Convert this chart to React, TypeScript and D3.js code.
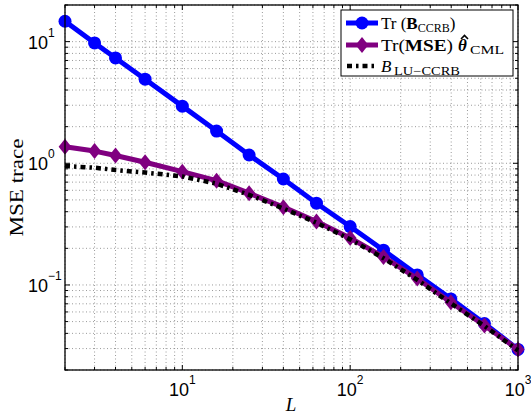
import React from "react";
import * as d3 from "d3";

const Lvals = [2, 3, 4, 6, 10, 16, 25, 40, 63, 100, 158, 251, 398, 631, 1000];
const bCCRB = [14.7, 9.75, 7.34, 4.91, 2.95, 1.84, 1.17, 0.743, 0.47, 0.302, 0.193, 0.121, 0.0768, 0.0482, 0.0295];
const mseCML = [1.37, 1.26, 1.16, 1.02, 0.853, 0.72, 0.568, 0.436, 0.332, 0.243, 0.17, 0.113, 0.072, 0.0464, 0.0295];
const bLU = [0.95, 0.92, 0.88, 0.84, 0.78, 0.68, 0.55, 0.425, 0.325, 0.237, 0.166, 0.11, 0.0705, 0.046, 0.029];
const xMajor = [10, 100, 1000];
const xMajorExp = ["1", "2", "3"];
const yMajor = [0.1, 1, 10];
const yMajorExp = ["\u22121", "0", "1"];

const W = 531, H = 416;
const L0 = 65, R0 = 518, T0 = 5, B0 = 370;

function minorTicks(lo: number, hi: number) {
  const out: number[] = [];
  for (let e = Math.floor(Math.log10(lo)); e <= Math.ceil(Math.log10(hi)); e++) {
    for (let m = 1; m <= 9; m++) {
      const v = m * Math.pow(10, e);
      if (v >= lo * 0.999 && v <= hi * 1.001) out.push(v);
    }
  }
  return out;
}

export default function App() {
  const x = d3.scaleLog().domain([2, 1000]).range([L0, R0]);
  const y = d3.scaleLog().domain([0.02, 20]).range([B0, T0]);
  const line = (vals: number[]) =>
    d3.line<number>().x((_, i) => x(Lvals[i])).y((v) => y(v))(vals) || "";
  const xt = minorTicks(2, 1000);
  const yt = minorTicks(0.02, 20);
  const isMajor = (v: number) => Math.abs(Math.log10(v) - Math.round(Math.log10(v))) < 1e-6;
  const grid = "#808080";
  const diamond = (cx: number, cy: number, r: number) =>
    `M${cx},${cy - r}L${cx + r * 0.8},${cy}L${cx},${cy + r}L${cx - r * 0.8},${cy}Z`;
  const serif = "'Liberation Serif', 'DejaVu Serif', serif";
  const sans = "'Liberation Sans', Arial, sans-serif";
  const lgX = 341, lgY = 10, lgW = 172, lgH = 66;
  const rows = [lgY + 13, lgY + 35, lgY + 56];
  const tx = lgX + 40;
  return (
    <svg width={W} height={H} style={{ display: "block", position: "absolute", left: 0, top: 0 }}>
      <rect x={0} y={0} width={W} height={H} fill="#fff" />
      {/* grid */}
      {xt.map((v, i) => (
        <line key={"gx" + i} x1={x(v)} x2={x(v)} y1={T0} y2={B0} stroke={grid} strokeWidth={0.8} strokeDasharray="1,2.5" />
      ))}
      {yt.map((v, i) => (
        <line key={"gy" + i} x1={L0} x2={R0} y1={y(v)} y2={y(v)} stroke={grid} strokeWidth={0.8} strokeDasharray="1,2.5" />
      ))}
      {/* ticks */}
      {xt.map((v, i) => {
        const len = isMajor(v) ? 5 : 3;
        return (
          <g key={"tx" + i}>
            <line x1={x(v)} x2={x(v)} y1={B0} y2={B0 - len} stroke="#000" />
            <line x1={x(v)} x2={x(v)} y1={T0} y2={T0 + len} stroke="#000" />
          </g>
        );
      })}
      {yt.map((v, i) => {
        const len = isMajor(v) ? 5 : 3;
        return (
          <g key={"ty" + i}>
            <line x1={L0} x2={L0 + len} y1={y(v)} y2={y(v)} stroke="#000" />
            <line x1={R0} x2={R0 - len} y1={y(v)} y2={y(v)} stroke="#000" />
          </g>
        );
      })}
      {/* data */}
      <path d={line(bCCRB)} fill="none" stroke="#0000ff" strokeWidth={5} strokeLinejoin="round" />
      {bCCRB.map((v, i) => (
        <circle key={"b" + i} cx={x(Lvals[i])} cy={y(v)} r={6.5} fill="#0000ff" />
      ))}
      <path d={line(mseCML)} fill="none" stroke="#800080" strokeWidth={5} strokeLinejoin="round" />
      {mseCML.map((v, i) => (
        <path key={"m" + i} d={diamond(x(Lvals[i]), y(v), 8)} fill="#800080" />
      ))}
      <path d={line(bLU)} fill="none" stroke="#000" strokeWidth={4.5} strokeDasharray="5,4,2.5,4" />
      {/* axes box */}
      <rect x={L0} y={T0} width={R0 - L0} height={B0 - T0} fill="none" stroke="#000" strokeWidth={1.3} />
      {/* x tick labels */}
      {xMajor.map((v, i) => (
        <text key={"xl" + i} x={x(v)} y={396} fontFamily={sans} fontSize={18} textAnchor="middle">
          10<tspan dy={-12} fontSize={12}>{xMajorExp[i]}</tspan>
        </text>
      ))}
      {yMajor.map((v, i) => (
        <text key={"yl" + i} x={28} y={y(v) + 7} fontFamily={sans} fontSize={18} textAnchor="start">
          10<tspan dy={-12} fontSize={12}>{yMajorExp[i]}</tspan>
        </text>
      ))}
      {/* axis labels */}
      <text x={291} y={411} fontFamily={serif} fontStyle="italic" fontSize={19} textAnchor="middle">L</text>
      <text transform={`translate(23,${(T0 + B0) / 2}) rotate(-90)`} fontFamily={serif} fontSize={18} textAnchor="middle" textLength={98} lengthAdjust="spacingAndGlyphs">MSE trace</text>
      {/* legend */}
      <rect x={lgX} y={lgY} width={lgW} height={lgH} fill="#fff" stroke="#000" strokeWidth={1} />
      <line x1={lgX + 5} x2={lgX + 37} y1={rows[0]} y2={rows[0]} stroke="#0000ff" strokeWidth={5} />
      <circle cx={lgX + 21} cy={rows[0]} r={6.5} fill="#0000ff" />
      <line x1={lgX + 5} x2={lgX + 37} y1={rows[1]} y2={rows[1]} stroke="#800080" strokeWidth={5} />
      <path d={diamond(lgX + 21, rows[1], 8)} fill="#800080" />
      <line x1={lgX + 6} x2={lgX + 37} y1={rows[2]} y2={rows[2]} stroke="#000" strokeWidth={4.5} strokeDasharray="5,4,2.5,4" />
      <text x={tx} y={rows[0] + 6} fontFamily={serif} fontSize={17}>
        Tr (<tspan fontWeight="bold">B</tspan><tspan fontSize={12} dy={3}>CCRB</tspan><tspan dy={-3}>)</tspan>
      </text>
      <text x={tx} y={rows[1] + 6} fontFamily={serif} fontSize={17} textLength={72} lengthAdjust="spacingAndGlyphs">
        Tr(<tspan fontWeight="bold">MSE</tspan>)
      </text>
      <text x={tx + 77} y={rows[1] + 6} fontFamily={serif} fontSize={17} fontWeight="bold" fontStyle="italic">{"\u03B8"}</text>
      <path d={`M${tx + 80},${rows[1] - 6} L${tx + 83.5},${rows[1] - 9.5} L${tx + 87},${rows[1] - 6}`} fill="none" stroke="#000" strokeWidth={1.6} />
      <text x={tx + 89} y={rows[1] + 9} fontFamily={serif} fontSize={12} textLength={34} lengthAdjust="spacingAndGlyphs">CML</text>
      <text x={tx} y={rows[2] + 6} fontFamily={serif} fontSize={17} fontStyle="italic">B</text>
      <text x={tx + 13} y={rows[2] + 9} fontFamily={serif} fontSize={12} textLength={66} lengthAdjust="spacingAndGlyphs">LU{"\u2212"}CCRB</text>
    </svg>
  );
}
